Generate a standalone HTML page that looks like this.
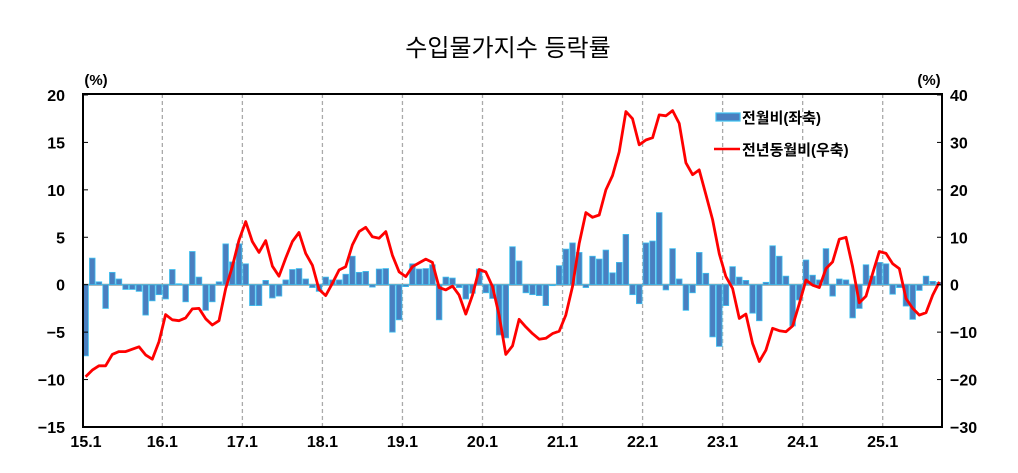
<!DOCTYPE html>
<html><head><meta charset="utf-8"><style>
body{margin:0;background:#fff;}
svg text{font-family:"Liberation Sans","Noto Sans CJK KR",sans-serif;font-weight:bold;fill:#000;}
</style></head><body>
<svg id="c" width="1018" height="468" xmlns="http://www.w3.org/2000/svg">
<text x="508" y="56" font-size="24" text-anchor="middle" style="font-weight:normal">수입물가지수 등락률</text>
<text x="96" y="85" font-size="15" text-anchor="middle">(%)</text>
<text x="929" y="85" font-size="15" text-anchor="middle">(%)</text>
<g id="g"></g>
</svg>
<script>
var bars=[-7.5,2.8,0.3,-2.5,1.3,0.6,-0.5,-0.5,-0.7,-3.2,-1.7,-1.05,
-1.5,1.6,0.1,-1.8,3.5,0.8,-2.7,-1.8,0.3,4.3,2.4,4.3,
2.2,-2.2,-2.2,0.45,-1.4,-1.2,0.5,1.6,1.7,0.6,-0.3,-0.7,
0.8,0.5,0.5,1.1,3.0,1.3,1.4,-0.25,1.65,1.7,-5.0,-3.7,
-0.2,2.2,1.65,1.7,2.1,-3.7,0.8,0.7,-0.3,-1.5,-0.9,1.65,
-0.85,-1.45,-5.3,-5.6,4.0,2.5,-0.85,-1.05,-1.15,-2.2,-0.1,2.0,
3.75,4.4,3.4,-0.3,3.0,2.7,3.65,1.25,2.35,5.3,-1.05,-2.0,
4.4,4.6,7.6,-0.55,3.8,0.6,-2.7,-0.85,3.4,1.2,-5.5,-6.5,
-2.2,1.9,0.8,0.45,-3.0,-3.8,0.25,4.1,3.0,0.9,-4.35,-1.6,
2.6,1.0,0.5,3.8,-1.2,0.6,0.5,-3.5,-2.5,2.1,0.9,2.35,
2.2,-1.0,-0.3,-2.25,-3.65,-0.6,0.9,0.35,0.25];
var line=[-19.4,-18.0,-17.1,-17.1,-14.7,-14.1,-14.1,-13.6,-13.1,-14.8,-15.7,-12.0,
-6.3,-7.4,-7.6,-7.0,-5.1,-5.0,-7.2,-8.5,-7.6,-0.8,3.8,9.4,
13.3,9.1,6.8,9.3,3.9,1.8,5.6,9.1,11.0,6.6,4.1,-1.0,
-2.3,0.3,3.1,3.8,8.4,11.2,12.1,10.1,9.8,11.2,6.2,2.7,
1.7,3.8,4.6,5.4,4.7,-0.6,-1.1,-0.3,-2.2,-6.2,-2.2,3.2,
2.7,-0.4,-6.4,-14.7,-12.9,-7.3,-8.9,-10.3,-11.5,-11.3,-10.3,-9.8,
-6.4,-0.4,8.7,15.2,14.2,14.7,20,23,28,36.5,35,29.5,
30.5,31,35.8,35.6,36.7,34,25.7,23.2,24.2,19,13.7,6.5,
1.7,-0.8,-7.1,-6.2,-12.4,-16.2,-13.8,-9.2,-9.7,-9.9,-8.7,-4.0,
1.0,-0.1,-0.6,3.4,4.8,9.6,10.0,3.8,-3.8,-2.4,2.4,7.0,
6.6,4.4,3.4,-2.9,-5.0,-6.4,-5.9,-2.2,0.6];
var Z=284.7,L=9.486,R=4.743;
function X(i){return 85.6+6.67*i;}
var s='';
// gridlines
for(var k=1;k<=10;k++){var gx=X(12*k)-3.3;s+='<line x1="'+gx+'" y1="94" x2="'+gx+'" y2="427" stroke="#aaa" stroke-width="1.3" stroke-dasharray="4,3"/>';}
s+='<line x1="83" y1="'+Z+'" x2="942" y2="'+Z+'" stroke="#999" stroke-width="2"/>';
// bars
for(var i=0;i<bars.length;i++){var v=bars[i],y=v>=0?Z-v*L:Z,h=Math.abs(v)*L;
s+='<rect x="'+(X(i)-2.8)+'" y="'+y+'" width="5.6" height="'+h+'" fill="#4a7fc0" stroke="#3cc0f0" stroke-width="0.8"/>';}
// line
var p=[];for(var i=0;i<line.length;i++)p.push(X(i).toFixed(1)+','+(Z-line[i]*R).toFixed(1));
s+='<polyline points="'+p.join(' ')+'" fill="none" stroke="#f00" stroke-width="2.8" stroke-linejoin="round"/>';
// frame
s+='<rect x="83" y="94" width="859" height="333" fill="none" stroke="#000" stroke-width="2"/>';
// y ticks & labels
for(var v=20;v>=-15;v-=5){var y=Z-v*L;s+='<line x1="83" y1="'+y+'" x2="88" y2="'+y+'" stroke="#000"/>';
s+='<text x="65" y="'+(y+6)+'" font-size="16" text-anchor="end">'+(v<0?'−'+(-v):v)+'</text>';}
for(var v=40;v>=-30;v-=10){var y=Z-v*R;s+='<line x1="937" y1="'+y+'" x2="942" y2="'+y+'" stroke="#000"/>';
s+='<text x="950" y="'+(y+6)+'" font-size="16">'+(v<0?'−'+(-v):v)+'</text>';}
for(var k=0;k<=10;k++){var gx=k==0?86:X(12*k)-3.3;s+='<text x="'+gx+'" y="447" font-size="16" text-anchor="middle">'+(15+k)+'.1</text>';}
// legend
s+='<rect x="716" y="113" width="24" height="8" fill="#4a7fc0" stroke="#3cc0f0" stroke-width="1.2"/>';
s+='<text x="742" y="123" font-size="15">전월비(좌축)</text>';
s+='<line x1="714" y1="149" x2="740" y2="149" stroke="#f00" stroke-width="2.5"/>';
s+='<text x="742" y="155" font-size="15">전년동월비(우축)</text>';
document.getElementById('g').innerHTML=s;
</script>
</body></html>
